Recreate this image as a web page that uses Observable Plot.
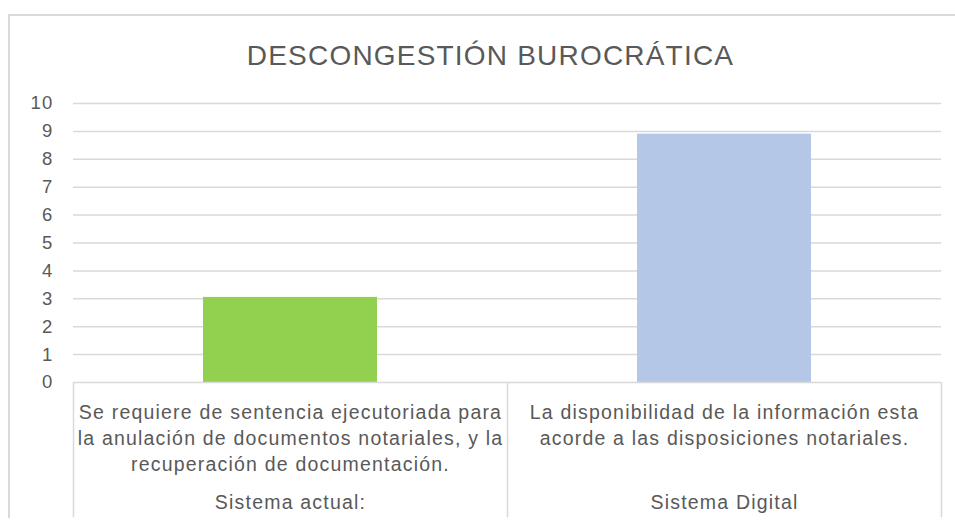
<!DOCTYPE html>
<html>
<head>
<meta charset="utf-8">
<script src="https://cdn.jsdelivr.net/npm/d3@7"></script>
<script src="https://cdn.jsdelivr.net/npm/@observablehq/plot@0.6"></script>
<style>
  html, body { margin: 0; padding: 0; background: #fff; }
  #wrap { position: relative; width: 955px; height: 520px; overflow: hidden; }
  #frame { position: absolute; left: 8px; top: 14px; width: 1000px; height: 502px;
           border-left: 2px solid #d9d9d9; border-top: 2px solid #d9d9d9; }
  #chart { position: absolute; left: 0; top: 0; }
</style>
</head>
<body>
<div id="wrap"><div id="frame"></div><div id="chart"></div></div>
<script>
const title = "DESCONGESTIÓN BUROCRÁTICA";
const groups = ["Sistema actual:", "Sistema Digital"];
const descriptions = [
  "Se requiere de sentencia ejecutoriada para\nla anulación de documentos notariales, y la\nrecuperación de documentación.",
  "La disponibilidad de la información esta\nacorde a las disposiciones notariales."
];
const values = [3.05, 8.9];
const colors = ["#92d050", "#b4c7e7"];
const yTicks = [0, 1, 2, 3, 4, 5, 6, 7, 8, 9, 10];

const W = 955, H = 520, ML = 73, MR = 14, MT = 103, MB = 138;
const step = (W - ML - MR) / groups.length;
const font = "'Liberation Sans', Arial, sans-serif";
const textColor = "#595959";

const data = groups.map((g, i) => ({group: g, desc: descriptions[i], value: values[i], color: colors[i]}));

const chart = Plot.plot({
  width: W,
  height: H,
  marginLeft: ML,
  marginRight: MR,
  marginTop: MT,
  marginBottom: MB,
  style: {fontFamily: font, color: textColor, background: "transparent", overflow: "visible", letterSpacing: "1.2px"},
  x: {type: "band", domain: groups, paddingInner: 0.6, paddingOuter: 0.3, axis: null},
  y: {domain: [0, 10], ticks: yTicks, tickSize: 0, tickPadding: 20, label: null},
  marks: [
    Plot.ruleY(yTicks.filter(d => d > 0), {stroke: "#d9d9d9", strokeWidth: 1.5}),
    Plot.barY(data, {x: "group", y: "value", fill: "color"}),
    Plot.axisY({ticks: yTicks, tickSize: 0, tickPadding: 20, fontSize: 18.5, fill: textColor, label: null}),
    Plot.ruleY([0], {stroke: "#d9d9d9", strokeWidth: 1.5}),
    Plot.ruleX(data, {x: "group", y1: 0, y2: -4.85, dx: -step / 2, stroke: "#d9d9d9", strokeWidth: 1.5}),
    Plot.ruleX(data.slice(-1), {x: "group", y1: 0, y2: -4.85, dx: step / 2, stroke: "#d9d9d9", strokeWidth: 1.5}),
    Plot.text(data, {x: "group", text: "desc", frameAnchor: "bottom", lineAnchor: "top", dy: 17.5, lineHeight: 1.35, fontSize: 19.5, fill: textColor}),
    Plot.text(data, {x: "group", text: "group", frameAnchor: "bottom", lineAnchor: "middle", dy: 120, fontSize: 19.5, fill: textColor}),
    Plot.text([title], {text: d => d, frameAnchor: "top", dy: -47.5, dx: -17, fontSize: 28, fill: textColor, lineAnchor: "middle"})
  ]
});
document.getElementById("chart").appendChild(chart);
</script>
</body>
</html>
